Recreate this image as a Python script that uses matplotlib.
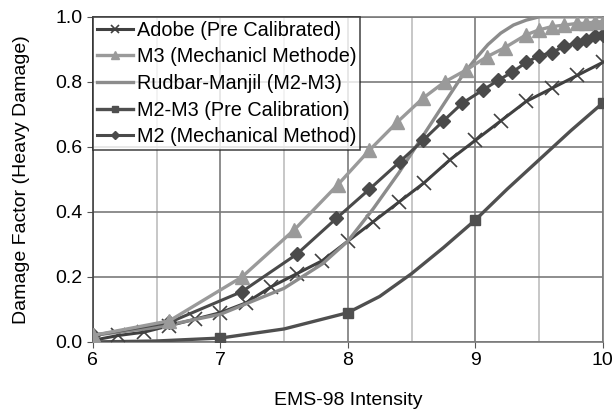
import matplotlib
matplotlib.use('Agg')
import matplotlib.pyplot as plt

plt.rcParams['font.family'] = ['Liberation Sans', 'DejaVu Sans']

# Adobe (Pre Calibrated)
adobe_x = [6.0, 6.2, 6.4, 6.6, 6.8, 7.0, 7.2, 7.4, 7.6, 7.8, 8.0,
           8.2, 8.4, 8.6, 8.8, 9.0, 9.2, 9.4, 9.6, 9.8, 10.0]
adobe_y = [0.005, 0.02, 0.03, 0.05, 0.07, 0.09, 0.12, 0.17, 0.21, 0.25, 0.31,
           0.37, 0.43, 0.49, 0.56, 0.62, 0.68, 0.74, 0.78, 0.82, 0.86]

# M3 (Mechanicl Methode)
m3_x = [6.0, 6.6, 7.17, 7.58, 7.92, 8.17, 8.39, 8.59, 8.76, 8.93,
        9.09, 9.23, 9.4, 9.5, 9.6, 9.7, 9.8, 9.87, 9.94, 10.0]
m3_y = [0.02, 0.065, 0.20, 0.345, 0.483, 0.59, 0.677, 0.75, 0.80, 0.837,
        0.877, 0.905, 0.945, 0.96, 0.97, 0.975, 0.98, 0.98, 0.985, 0.985]

# Rudbar-Manjil (M2-M3)
rud_x = [6.0, 6.5, 7.0, 7.5, 7.8, 8.0, 8.2, 8.4, 8.6, 8.8, 8.9,
         9.0, 9.1, 9.2, 9.3, 9.4, 9.5, 10.0]
rud_y = [0.02, 0.045, 0.085, 0.165, 0.24, 0.31, 0.41, 0.52, 0.64, 0.76, 0.82,
         0.87, 0.915, 0.95, 0.975, 0.99, 1.0, 1.0]

# M2-M3 (Pre Calibration)
pre_x = [6.0, 6.5, 7.0, 7.5, 8.0, 8.25, 8.5, 8.75, 9.0, 9.25, 9.5, 9.75, 10.0]
pre_y = [0.0, 0.003, 0.012, 0.04, 0.09, 0.14, 0.21, 0.29, 0.375, 0.47, 0.56, 0.65, 0.735]
pre_marks = [0, 2, 4, 8, 12]

# M2 (Mechanical Method)
m2_x = [6.0, 6.6, 7.17, 7.6, 7.91, 8.17, 8.41, 8.59, 8.75, 8.9, 9.06,
        9.18, 9.29, 9.4, 9.5, 9.6, 9.7, 9.8, 9.87, 9.94, 10.0]
m2_y = [0.02, 0.06, 0.155, 0.27, 0.38, 0.47, 0.555, 0.62, 0.68, 0.735, 0.775,
        0.805, 0.83, 0.86, 0.88, 0.89, 0.91, 0.92, 0.93, 0.94, 0.945]

fig = plt.figure(figsize=(6.15, 4.12), dpi=100)
ax = fig.add_axes([0.151, 0.170, 0.829, 0.789])

ax.plot(pre_x, pre_y, color='#4f4f4f', lw=2.4, marker='s', markersize=7.5,
        markevery=pre_marks, label='M2-M3 (Pre Calibration)', zorder=3)
ax.plot(adobe_x, adobe_y, color='#404040', lw=2.2, marker='x', markersize=10,
        markeredgewidth=1.2, label='Adobe (Pre Calibrated)', zorder=4)
ax.plot(rud_x, rud_y, color='#8c8c8c', lw=2.4, label='Rudbar-Manjil (M2-M3)', zorder=4)
ax.plot(m2_x, m2_y, color='#4a4a4a', lw=2.2, marker='D', markersize=7.5,
        label='M2 (Mechanical Method)', zorder=5)
ax.plot(m3_x, m3_y, color='#9a9a9a', lw=2.4, marker='^', markersize=10.5,
        label='M3 (Mechanicl Methode)', zorder=6)

ax.set_xlim(6, 10)
ax.set_ylim(0, 1.0)
ax.set_xticks([6, 7, 8, 9, 10])
ax.set_xticks([6.5, 7.5, 8.5, 9.5], minor=True)
ax.set_yticks([0.0, 0.2, 0.4, 0.6, 0.8, 1.0])
ax.set_yticklabels(['0.0', '0.2', '0.4', '0.6', '0.8', '1.0'])
ax.grid(True, which='major', color='#7a7a7a', lw=1.2)
ax.grid(True, which='minor', axis='x', color='#bdbdbd', lw=1.2)
ax.set_axisbelow(True)
ax.tick_params(axis='both', which='major', labelsize=14, length=4, color='#555555')
ax.tick_params(axis='x', which='minor', length=0)
for s in ax.spines.values():
    s.set_color('#7a7a7a')
    s.set_linewidth(1.2)
ax.spines['left'].set_color('#444444')

ax.set_xlabel('EMS-98 Intensity', fontsize=14, labelpad=16)
ax.set_ylabel('Damage Factor (Heavy Damage)', fontsize=14, labelpad=18)

h, l = ax.get_legend_handles_labels()
order = [1, 4, 2, 0, 3]
leg = ax.legend([h[i] for i in order], [l[i] for i in order], loc='upper left',
                fontsize=14.3, frameon=True, fancybox=False, borderpad=0.2,
                labelspacing=0.38, handlelength=1.8, handletextpad=0.2,
                borderaxespad=0.0, markerscale=0.6)
leg.get_frame().set_edgecolor('#222222')
leg.get_frame().set_linewidth(1.2)
leg.set_zorder(10)

fig.savefig('out.png', dpi=100)
